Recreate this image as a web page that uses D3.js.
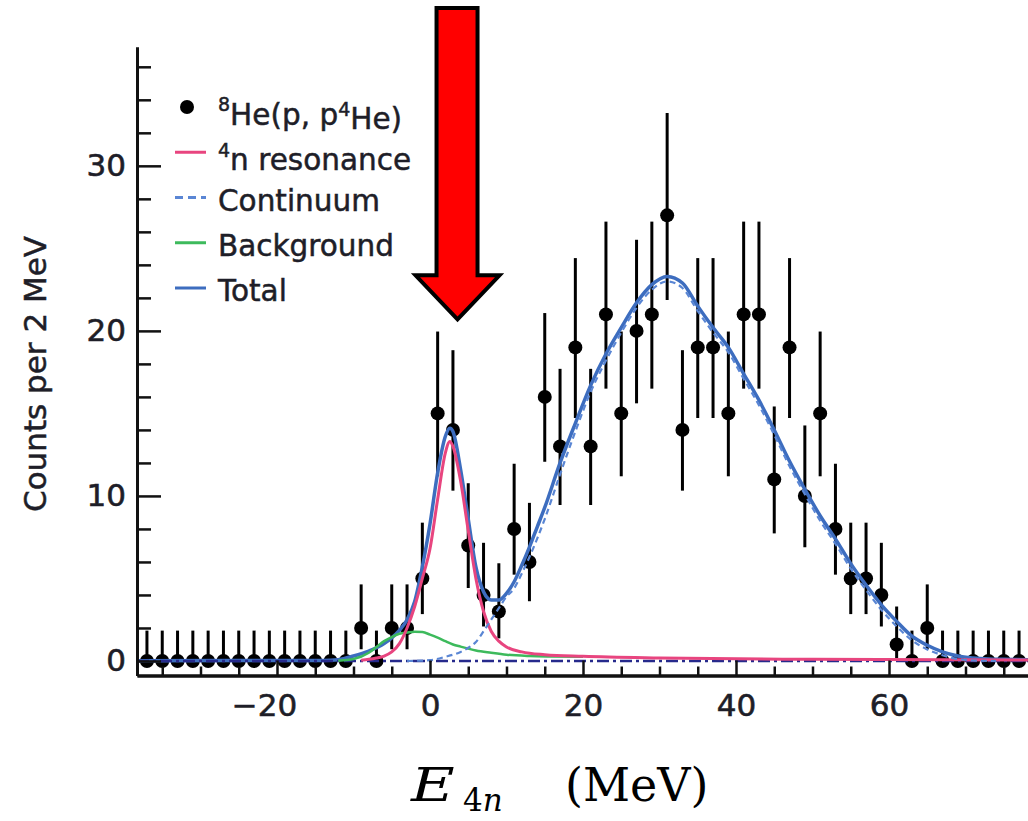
<!DOCTYPE html>
<html>
<head>
<meta charset="utf-8">
<script src="https://cdn.jsdelivr.net/npm/d3@7"></script>
<style>
  body { margin: 0; background: #fff; }
  svg { display: block; }
</style>
</head>
<body>
<div id="chart"></div>
<script>
// ---- data ----
const binCenters = [-37,-35,-33,-31,-29,-27,-25,-23,-21,-19,-17,-15,-13,-11,-9,-7,-5,-3,-1,
  1,3,5,7,9,11,13,15,17,19,21,23,25,27,29,31,33,35,37,39,41,43,45,47,49,51,53,55,57,59,61,63,65,
  67,69,71,73,75,77];
const counts = [0,0,0,0,0,0,0,0,0,0,0,0,0,0,2,0,2,2,5,
  15,14,7,4,3,8,6,16,13,19,13,21,15,20,21,27,14,19,19,15,21,21,11,19,10,15,8,5,5,4,1,0,2,
  0,0,0,0,0,0];
// error bar extents (lower / upper end of each bar)
const errLow = [0,0,0,0,0,0,0,0,0,0,0,0,0,0,0.71,0,0.71,0.71,2.84,
  11.19,10.32,4.42,2.09,1.37,5.23,3.62,12.07,9.45,14.72,9.45,16.50,11.19,15.61,16.50,21.87,10.32,
  14.72,14.72,11.19,16.50,16.50,7.73,14.72,6.89,11.19,5.23,2.84,2.84,2.09,0.17,0,0.71,
  0,0,0,0,0,0];
const errHigh = [1.84,1.84,1.84,1.84,1.84,1.84,1.84,1.84,1.84,1.84,1.84,1.84,1.84,1.84,4.64,1.84,4.64,4.64,8.38,
  19.96,18.83,10.77,7.16,5.92,11.95,9.58,21.08,17.70,24.41,17.70,26.62,19.96,25.52,26.62,33.20,18.83,
  24.41,24.41,19.96,26.62,26.62,15.42,24.41,14.27,19.96,11.95,8.38,8.38,7.16,3.30,1.84,4.64,
  1.84,1.84,1.84,1.84,1.84,1.84];

// fit curves
const totalX = [-38.3,-14,-12,-10,-8,-6,-5,-4,-3,-2,-1,0,1,2,2.6,3,4,5,6,7,8,9,10,11,12,13,14,15,
  17,19,21,23,25,27,29,31,33,35,37,39,41,43,45,47,49,51,53,55,57,59,61,63,65,67,69,71,73,75,78.2];
const totalY = [0.02,0.03,0.08,0.3,0.6,1.05,1.4,1.85,2.5,3.6,5.7,8.3,11.4,13.6,14.1,13.9,11.6,8.6,5.7,4.2,3.7,3.7,4.1,4.8,5.8,6.9,8.1,9.3,
  12.0,14.4,16.7,18.6,20.2,21.7,22.8,23.3,22.9,21.5,20.2,19.0,17.4,15.8,14.0,12.1,10.4,8.8,7.4,5.9,4.6,3.4,2.4,1.5,0.95,0.55,0.3,0.18,0.12,0.1,0.08];

const contX = [-3,0,2,4,5,6,7,8,9,10,11,12,13,14,15,
  17,19,21,23,25,27,29,31,33,35,37,39,41,43,45,47,49,51,53,55,57,59,61,63,65,67,69,71,74];
const contY = [0,0.05,0.25,0.55,0.8,1.15,1.8,2.5,3.2,3.9,4.4,5.3,6.3,7.4,8.6,
  11.3,13.9,16.3,18.2,19.9,21.4,22.5,23.0,22.6,21.2,19.9,18.7,17.1,15.5,13.7,11.8,10.1,8.5,7.1,5.6,4.3,3.1,2.1,1.25,0.7,0.35,0.12,0.03,0];

const resX = [-9,-8,-7,-6,-5,-4,-3,-2,-1,0,1,2,2.6,3,4,5,6,7,8,9,10,12,15,20,30,50,78.2];
const resY = [0.05,0.1,0.18,0.3,0.55,1.05,2.0,3.3,5.0,6.8,9.8,12.6,13.3,13.0,10.9,7.9,5.0,3.0,1.8,1.2,0.85,0.55,0.38,0.28,0.18,0.1,0.06];

const bgX = [-12,-10,-8,-7,-6,-5,-4,-3,-2,-1,0,1,2,3,4,5,6,8,10,13,16,20];
const bgY = [0.02,0.12,0.5,0.85,1.2,1.45,1.65,1.72,1.77,1.75,1.6,1.42,1.2,1.0,0.87,0.75,0.64,0.5,0.38,0.3,0.27,0.25];

const baseX = [-38.3, 78.17];
const baseY = [0, 0];

// axis ticks
const yMajor = [0, 10, 20, 30];
const yMinor = [2,4,6,8,12,14,16,18,22,24,26,28,32,34,36];
const xMajor = [-20, 0, 20, 40, 60];
const xMinor = [-35,-30,-25,-15,-10,-5,5,10,15,25,30,35,45,50,55,65,70,75];

// legend
const legendKeys = ['data', 'res', 'cont', 'bg', 'total'];

// ---- drawing ----
const W = 1028, H = 821;
const svg = d3.select('#chart').append('svg')
  .attr('width', W).attr('height', H)
  .style('font-family', '"DejaVu Sans", sans-serif');

const x = d3.scaleLinear().domain([-38.3, 78.17]).range([137, 1028]);
const y = d3.scaleLinear().domain([-0.88, 37.2]).range([675.5, 47]);

const ink = '#1e1e28';
const colors = { res: '#e8457f', cont: '#5a86d4', bg: '#3dba5c', total: '#3d6dbf', base: '#262a8c' };

// error bars + points
svg.append('g').selectAll('line')
  .data(binCenters)
  .enter().append('line')
  .attr('x1', d => x(d)).attr('x2', d => x(d))
  .attr('y1', (d, i) => y(errLow[i])).attr('y2', (d, i) => y(errHigh[i]))
  .attr('stroke', '#000').attr('stroke-width', 3);

svg.append('g').selectAll('circle')
  .data(binCenters)
  .enter().append('circle')
  .attr('cx', d => x(d)).attr('cy', (d, i) => y(counts[i]))
  .attr('r', 7).attr('fill', '#000');

// curves
function curve(xs, ys) {
  return d3.line().x(d => x(d[0])).y(d => y(d[1])).curve(d3.curveMonotoneX)(d3.zip(xs, ys));
}
svg.append('path').attr('d', curve(totalX, totalY))
  .attr('fill', 'none').attr('stroke', colors.total).attr('stroke-width', 3.5);
svg.append('path').attr('d', curve(baseX, baseY))
  .attr('fill', 'none').attr('stroke', colors.base).attr('stroke-width', 2.5)
  .attr('stroke-dasharray', '12,4,3,4');
svg.append('path').attr('d', curve(bgX, bgY))
  .attr('fill', 'none').attr('stroke', colors.bg).attr('stroke-width', 2.5);
svg.append('path').attr('d', curve(resX, resY))
  .attr('fill', 'none').attr('stroke', colors.res).attr('stroke-width', 3);
svg.append('path').attr('d', curve(contX, contY))
  .attr('fill', 'none').attr('stroke', colors.cont).attr('stroke-width', 2.2)
  .attr('stroke-dasharray', '6,4');

// axes
function styleAxis(g) {
  g.select('.domain').attr('stroke', '#111').attr('stroke-width', 3);
  g.selectAll('.tick line').attr('stroke', '#111').attr('stroke-width', 2.5);
  g.selectAll('.tick text').attr('fill', ink).style('font-size', '31px')
    .style('font-family', '"DejaVu Sans", sans-serif')
    .attr('stroke', ink).attr('stroke-width', 0.6);
}
svg.append('g').attr('transform', 'translate(137,0)')
  .call(d3.axisLeft(y).tickValues(yMinor).tickSize(-14).tickSizeOuter(0).tickFormat(''))
  .call(styleAxis);
svg.append('g').attr('transform', 'translate(137,0)')
  .call(d3.axisLeft(y).tickValues(yMajor).tickSize(-24).tickSizeOuter(0).tickPadding(11))
  .call(styleAxis);
svg.append('g').attr('transform', 'translate(0,675.5)')
  .call(d3.axisBottom(x).tickValues(xMinor).tickSize(-9).tickSizeOuter(0).tickFormat(''))
  .call(styleAxis);
const xAx = svg.append('g').attr('transform', 'translate(0,675.5)')
  .call(d3.axisBottom(x).tickValues(xMajor).tickSize(-15).tickSizeOuter(0).tickPadding(18))
  .call(styleAxis);
xAx.selectAll('.tick text').attr('dx', d => d < 0 ? '-0.42em' : null);

// y label
svg.append('text')
  .attr('transform', 'translate(46,374) rotate(-90)')
  .attr('text-anchor', 'middle')
  .attr('fill', ink).attr('stroke', ink).attr('stroke-width', 0.5)
  .style('font-size', '31px')
  .text('Counts per 2 MeV');

// x label  E_4n (MeV)
const xl = svg.append('g').attr('fill', '#000').style('font-family', '"DejaVu Serif", serif');
xl.append('text').attr('transform', 'translate(411,801) scale(1.3,1)')
  .style('font-size', '46px').style('font-style', 'italic').text('E');
const sub = xl.append('text').attr('x', 463).attr('y', 811).style('font-size', '31px');
sub.append('tspan').text('4');
sub.append('tspan').style('font-style', 'italic').text('n');
xl.append('text').attr('x', 565).attr('y', 801).style('font-size', '46px').text('(MeV)');

// legend
const lg = svg.append('g');
const rowY = d3.scalePoint().domain(legendKeys).range([107, 288]);
lg.append('circle').attr('cx', 187).attr('cy', rowY('data')).attr('r', 7).attr('fill', '#000');
[['res', null], ['cont', '8,5'], ['bg', null], ['total', null]].forEach(([k, dash]) => {
  lg.append('line').attr('x1', 175).attr('x2', 206)
    .attr('y1', rowY(k)).attr('y2', rowY(k))
    .attr('stroke', colors[k]).attr('stroke-width', 3)
    .attr('stroke-dasharray', dash);
});
const lt = lg.append('g').attr('fill', ink).attr('stroke', ink).attr('stroke-width', 0.5)
  .style('font-size', '29.5px');
function legendText(k) {
  return lt.append('text').attr('x', 218).attr('y', rowY(k) + 13);
}
let t = legendText('data');
t.append('tspan').attr('dy', '-0.45em').style('font-size', '19px').text('8');
t.append('tspan').attr('dy', '0.45em').text('He(p, p');
t.append('tspan').attr('dy', '-0.45em').style('font-size', '19px').text('4');
t.append('tspan').attr('dy', '0.45em').text('He)');
t = legendText('res');
t.append('tspan').attr('dy', '-0.45em').style('font-size', '19px').text('4');
t.append('tspan').attr('dy', '0.45em').text('n resonance');
legendText('cont').text('Continuum');
legendText('bg').text('Background');
legendText('total').text('Total');

// red arrow pointing at the resonance peak
const tipX = x(3.6), tipY = y(20.7);
const arrow = d3.path();
arrow.moveTo(tipX - 21, 8);
arrow.lineTo(tipX + 20, 8);
arrow.lineTo(tipX + 20, tipY - 44);
arrow.lineTo(tipX + 42, tipY - 44);
arrow.lineTo(tipX, tipY);
arrow.lineTo(tipX - 42, tipY - 44);
arrow.lineTo(tipX - 21, tipY - 44);
arrow.closePath();
svg.append('path').attr('d', arrow.toString())
  .attr('fill', '#ff0000').attr('stroke', '#000').attr('stroke-width', 4)
  .attr('stroke-linejoin', 'miter');
</script>
</body>
</html>
